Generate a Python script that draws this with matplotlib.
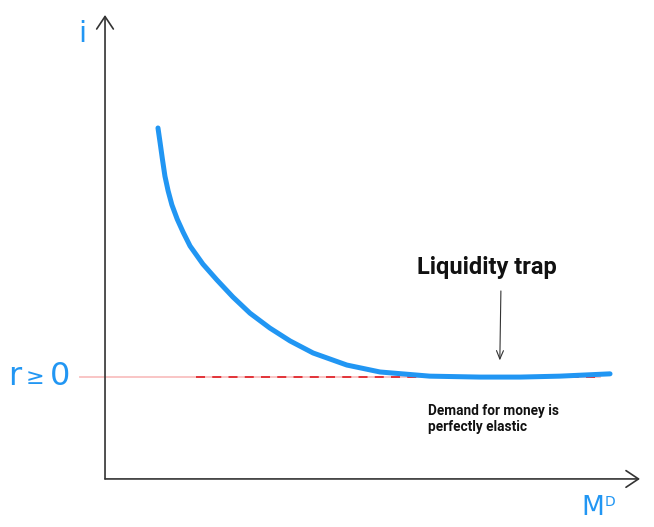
import matplotlib
matplotlib.use("Agg")
import matplotlib.pyplot as plt

# Money demand curve (quantity of money, interest rate)
money = [0.99, 1.03, 1.07, 1.12, 1.18, 1.25, 1.35, 1.46, 1.59, 1.83, 2.09, 2.39, 2.71, 3.08,
         3.46, 3.89, 4.52, 5.14, 6.07, 7.01, 7.76, 8.50, 9.44]
rate = [7.56, 7.24, 6.91, 6.52, 6.20, 5.90, 5.59, 5.31, 5.01, 4.62, 4.28, 3.91, 3.56, 3.24,
        2.96, 2.70, 2.44, 2.29, 2.20, 2.18, 2.18, 2.20, 2.25]
floor_rate = 2.18
floor_range = [-0.47, 9.25]

title_label = "Liquidity trap"
note_label = "Demand for money is\nperfectly elastic"
y_label = "i"
floor_parts = ["r", "\u2265", "0"]
x_parts = ["M", "D"]

blue = "#2196F3"
axis_col = "#333333"

fig = plt.figure(figsize=(6.54, 5.27), dpi=100)
ax = fig.add_axes([0, 0, 1, 1])
ax.set_xlim(-1.963, 10.262)
ax.set_ylim(-1.058, 10.324)
ax.axis("off")

# axes with open arrowheads
arrow = dict(arrowstyle="->,head_length=0.9,head_width=0.6", lw=1.2, color=axis_col,
             shrinkA=0, shrinkB=0)
ax.annotate("", xy=(0, 10.0), xytext=(0, -0.02), arrowprops=arrow)
ax.annotate("", xy=(10.0, -0.02), xytext=(0, -0.02), arrowprops=arrow)

# floor line: pink base with red dashes
ax.plot(floor_range, [floor_rate, floor_rate], color="#f9c0c0", lw=1.3, zorder=2)
ax.plot([1.7, floor_range[1]], [floor_rate, floor_rate], color="#e0282e", lw=1.3,
        dashes=(5, 4), zorder=2)

# demand curve
ax.plot(money, rate, color=blue, lw=3.6, solid_capstyle="round", solid_joinstyle="round", zorder=3)

# annotation arrow
ax.annotate("", xy=(7.38, 2.54), xytext=(7.40, 4.04),
            arrowprops=dict(arrowstyle="->,head_length=0.6,head_width=0.25", lw=0.8,
                            color=axis_col, shrinkA=0, shrinkB=0))

ax.text(7.14, 4.55, title_label, fontsize=17, fontweight="bold", family="Roboto",
        ha="center", va="center", color="#111111")
ax.text(6.04, 1.28, note_label, fontsize=9.8, fontweight="bold", family="Roboto",
        ha="left", va="center", color="#111111", linespacing=1.2)

ax.text(-0.43, 9.6, y_label, fontsize=21, family="DejaVu Sans",
        ha="center", va="center", color=blue)
ax.text(-1.69, floor_rate + 0.02, floor_parts[0], fontsize=23, family="DejaVu Sans",
        ha="center", va="center", color=blue)
ax.text(-1.31, floor_rate - 0.02, floor_parts[1], fontsize=16, family="DejaVu Sans",
        ha="center", va="center", color=blue)
ax.text(-0.84, floor_rate + 0.02, floor_parts[2], fontsize=23, family="DejaVu Sans",
        ha="center", va="center", color=blue)
ax.text(9.11, -0.64, x_parts[0], fontsize=19, family="DejaVu Sans",
        ha="center", va="center", color=blue)
ax.text(9.44, -0.52, x_parts[1], fontsize=10, family="DejaVu Sans",
        ha="center", va="center", color=blue)

fig.savefig("out.png", dpi=100)
